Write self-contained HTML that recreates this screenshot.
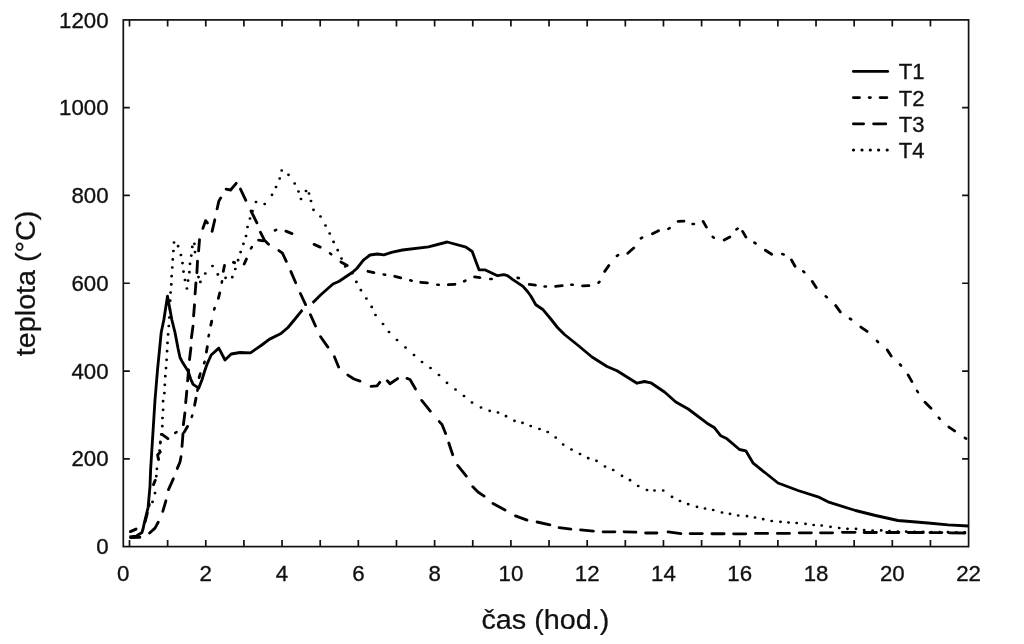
<!DOCTYPE html>
<html lang="cs">
<head>
<meta charset="utf-8">
<title>teplota / čas</title>
<style>
html,body{margin:0;padding:0;background:#fff;}
body{width:1024px;height:644px;overflow:hidden;}
svg{display:block;}
text{font-family:"Liberation Sans",sans-serif;fill:#111;stroke:#111;stroke-width:0.35;}
.tick{font-size:22.8px;}
.title{font-size:27.3px;stroke-width:0.25;}
.leg{font-size:22.3px;}
.ax{stroke:#111;stroke-width:1.7;fill:none;}
.c{stroke:#000;stroke-width:2.85;fill:none;stroke-linejoin:round;stroke-linecap:butt;}
.r{stroke:#000;stroke-width:2.85;fill:none;stroke-linejoin:round;stroke-linecap:round;}
.d{stroke:#000;stroke-width:2.6;fill:none;stroke-linejoin:round;stroke-linecap:round;}
</style>
</head>
<body>
<svg width="1024" height="644" viewBox="0 0 1024 644">
<rect x="0" y="0" width="1024" height="644" fill="#ffffff"/>
<rect class="ax" x="123.3" y="19.9" width="845.3000000000001" height="526.7"/>
<path class="ax" d="M129.5 546.6V540.1M129.5 19.9V26.4M167.64 546.6V540.1M167.64 19.9V26.4M205.78 546.6V540.1M205.78 19.9V26.4M243.92 546.6V540.1M243.92 19.9V26.4M282.06 546.6V540.1M282.06 19.9V26.4M320.2 546.6V540.1M320.2 19.9V26.4M358.34 546.6V540.1M358.34 19.9V26.4M396.48 546.6V540.1M396.48 19.9V26.4M434.62 546.6V540.1M434.62 19.9V26.4M472.76 546.6V540.1M472.76 19.9V26.4M510.9 546.6V540.1M510.9 19.9V26.4M549.04 546.6V540.1M549.04 19.9V26.4M587.18 546.6V540.1M587.18 19.9V26.4M625.32 546.6V540.1M625.32 19.9V26.4M663.46 546.6V540.1M663.46 19.9V26.4M701.6 546.6V540.1M701.6 19.9V26.4M739.74 546.6V540.1M739.74 19.9V26.4M777.88 546.6V540.1M777.88 19.9V26.4M816.02 546.6V540.1M816.02 19.9V26.4M854.16 546.6V540.1M854.16 19.9V26.4M892.3 546.6V540.1M892.3 19.9V26.4M930.44 546.6V540.1M930.44 19.9V26.4M123.3 458.82H129.8M968.6 458.82H962.1M123.3 371.03H129.8M968.6 371.03H962.1M123.3 283.25H129.8M968.6 283.25H962.1M123.3 195.47H129.8M968.6 195.47H962.1M123.3 107.68H129.8M968.6 107.68H962.1"/>
<g class="tick" text-anchor="middle">
<text transform="translate(123.3 581.4) scale(0.977 1)">0</text>
<text transform="translate(205.78 581.4) scale(0.977 1)">2</text>
<text transform="translate(282.06 581.4) scale(0.977 1)">4</text>
<text transform="translate(358.34 581.4) scale(0.977 1)">6</text>
<text transform="translate(434.62 581.4) scale(0.977 1)">8</text>
<text transform="translate(510.9 581.4) scale(0.977 1)">10</text>
<text transform="translate(587.18 581.4) scale(0.977 1)">12</text>
<text transform="translate(663.46 581.4) scale(0.977 1)">14</text>
<text transform="translate(739.74 581.4) scale(0.977 1)">16</text>
<text transform="translate(816.02 581.4) scale(0.977 1)">18</text>
<text transform="translate(892.3 581.4) scale(0.977 1)">20</text>
<text transform="translate(968.58 581.4) scale(0.977 1)">22</text>
</g>
<g class="tick" text-anchor="end">
<text transform="translate(108.6 554.2) scale(0.977 1)">0</text>
<text transform="translate(108.6 466.42) scale(0.977 1)">200</text>
<text transform="translate(108.6 378.63) scale(0.977 1)">400</text>
<text transform="translate(108.6 290.85) scale(0.977 1)">600</text>
<text transform="translate(108.6 203.07) scale(0.977 1)">800</text>
<text transform="translate(108.6 115.28) scale(0.977 1)">1000</text>
<text transform="translate(108.6 27.5) scale(0.977 1)">1200</text>
</g>
<text class="title" text-anchor="middle" transform="translate(545.4 629.1) scale(1.055 1)">čas (hod.)</text>
<text class="title" text-anchor="middle" transform="translate(35 283.4) rotate(-90) scale(1.052 1)">teplota (°C)</text>
<path class="r" d="M853.4 71.4H887.7"/>
<path class="r" d="M853.4 97.6H859.5M869.2 97.6H870.4M880.1 97.6H886.9"/>
<path class="r" d="M853.4 123.8H863.6M873.6 123.8H885.8"/>
<path class="d" style="stroke-width:3" d="M853.4 150h.2M861.9 150h.2M870.2 150h.2M878.5 150h.2M887.1 150h.2"/>
<g class="leg">
<text transform="translate(898.7 79.4) scale(0.99 1)">T1</text>
<text transform="translate(898.7 105.55) scale(0.99 1)">T2</text>
<text transform="translate(898.7 131.7) scale(0.99 1)">T3</text>
<text transform="translate(898.7 157.85) scale(0.99 1)">T4</text>
</g>
<clipPath id="cp"><rect x="123.3" y="19.9" width="845.3000000000001" height="526.7"/></clipPath>
<g clip-path="url(#cp)">
<path class="c" d="M129.4 536.9L136.2 536.2L141.9 532.5L143.1 528.8L144.4 522.5L148.1 507.5L150 486.2L150.6 470L155 400L157.5 370L161.2 332.5L163.8 320L167.5 296.2L171.9 320L175 332.5L178.1 348.8L180 357.5L181.9 361.2L188.1 371.2L190.6 378.8L193.1 384.4L198.8 388.1L201.9 380L205 370L207.5 363.1L211.2 355L218.8 348.1L225 360L231.2 354L240 352.5L250.5 352.8L261.8 345L269.2 339.4L280.5 333.8L288 327.5L294.2 320L301.8 310.6L313.6 301.9L320.5 295L333 284L339.2 281.2L351.8 272.8L356.8 268.5L363 260.6L365 258.8L370 255L377.5 254L383.8 254.8L392.5 252.2L402.5 250L428.5 246.8L447.2 242L466 247.2L472.2 251.5L479 269.8L484.8 269.8L497.5 275.7L503.8 274.6L507.5 275.6L512.5 279.4L523 286.4L527.5 291.5L530.8 296L535.8 304.8L543.2 309.8L551.2 319.5L557.5 327.5L564.5 334.5L577 344.5L592 357L607 366.5L617 370.8L637 383.2L644.5 381.5L650.8 382.8L664.5 392L675.8 402L688.2 409L707 423.2L714.5 427.8L720.8 435.8L727 438.8L739.5 449.5L745.8 450.8L753.2 463.2L768 475L778 483L798 490.5L818 496.8L828 501.8L855.5 510.5L875.5 515.5L898 520.5L928 523L948 524.8L968.5 526"/>
<path d="M302.5 310L312.6 302.8" style="stroke:#fff;stroke-width:4.5;fill:none"/>
<path class="d" style="stroke-width:2.7" d="M152.4 501.9h0.2M154.9 493.1h0.2M156.2 476.2h0.2M156.8 468.8h0.2M158.4 459h0.2M159.5 450.5h0.2M160.2 442.5h0.2M161.2 434.4h0.2M162.2 426.2h0.2M162.4 418h0.2M163.0 409.8h0.2M163.0 401.2h0.2M164.3 393.1h0.2M164.7 384.8h0.2M165.2 376.2h0.2M165.9 368.1h0.2M166.5 359.8h0.2M167.0 351.2h0.2M167.4 342.9h0.2M168.0 334.4h0.2M168.7 326h0.2M169.3 317.5h0.2M169.8 309h0.2M170.1 300.7h0.2M170.5 292.5h0.2M171.2 284.4h0.2M171.5 276.2h0.2M172.2 267.5h0.2M172.7 259.4h0.2M173.3 251h0.2M173.9 242.5h0.2M178.0 246.2h0.2M180.8 255h0.2M182.4 263.1h0.2M183.4 271.6h0.2M184.9 280h0.2M186.8 288.5h0.2M188.0 280.6h0.2M189.3 272.2h0.2M189.9 263.8h0.2M191.2 255.6h0.2M192.2 246.9h0.2M194.3 243.8h0.2M194.9 252.1h0.2M198.4 277.1h0.2M200.3 281.9h0.2M205.2 273.5h0.2M212.4 266h0.2M217.7 274.4h0.2M225.5 277.8h0.2M232.2 277.2h0.2M235.2 269h0.2M238.0 260.2h0.2M240.5 252.1h0.2M243.3 243.8h0.2M245.9 236h0.2M247.4 227h0.2M249.9 218.5h0.2M252.4 211h0.2M255.9 202h0.2M264.6 204h0.2M271.9 194.8h0.2M275.9 187h0.2M279.6 178.5h0.2M281.6 170.5h0.2M288.4 174.8h0.2M294.6 183.5h0.2M298.4 191.5h0.2M300.9 199h0.2M305.9 191h0.2M308.9 193.5h0.2M310.9 201h0.2M313.4 209.8h0.2M320.4 216.5h0.2M325.4 225.5h0.2M329.6 233.5h0.2M333.5 241.9h0.2M337.6 250.2h0.2M341.4 258.5h0.2M345.1 266.5h0.2M352.3 273.1h0.2M356.3 281.9h0.2M360.8 290.2h0.2M366.3 298.5h0.2M371.6 306.9h0.2M375.4 315h0.2M382.9 324h0.2M388.9 332h0.2M396.9 340h0.2M405.4 347.5h0.2M413.9 355h0.2M421.9 362h0.2M430.4 368h0.2M438.9 375h0.2M446.9 382.8h0.2M455.4 389.5h0.2M463.9 396h0.2M471.9 402.5h0.2M480.9 407.5h0.2M489.6 410.8h0.2M497.9 412.5h0.2M505.9 416.2h0.2M514.4 420.8h0.2M522.4 422.8h0.2M530.6 426h0.2M539.4 429h0.2M547.6 432h0.2M555.6 437.5h0.2M563.1 444.5h0.2M571.4 449.5h0.2M579.9 454h0.2M588.1 458.2h0.2M596.4 460.8h0.2M604.9 466.5h0.2M613.1 470h0.2M621.9 475.8h0.2M629.9 480.2h0.2M638.1 486h0.2M646.9 490h0.2M654.4 490.5h0.2M663.1 490.5h0.2M671.9 496.8h0.2M679.9 501h0.2M688.1 504.2h0.2M696.9 506.8h0.2M704.9 508.5h0.2M713.1 510h0.2M721.9 512.5h0.2M729.9 513.8h0.2M738.1 515.5h0.2M746.9 516.2h0.2M754.9 517.5h0.2M763.1 519.2h0.2M771.6 521h0.2M780.4 521.8h0.2M788.4 522.5h0.2M796.6 523h0.2M805.4 523.8h0.2M813.6 525h0.2M821.6 525.5h0.2M830.4 526.8h0.2M839.1 528h0.2M847.4 528.8h0.2M855.9 528.8h0.2M864.1 530h0.2M872.5 530.6h0.2M881.1 530.4h0.2M889.4 531.2h0.2M897.8 531.5h0.2M906.1 531.6h0.2M914.5 531.8h0.2M922.9 531.9h0.2M931.2 532h0.2M939.6 532.1h0.2M947.9 532.2h0.2M956.3 532.3h0.2M964.6 532.4h0.2"/>
<path class="r" d="M130.4 531.6L136.0 529.1M145.1 521.9L147.3 513.1M153.5 484.6L155.2 480.4M158.5 459.5L157.6 455L160.3 451.8M162.1 434.4L167.9 438.7M184.3 432.0L187.5 426.6M194.6 405.2L196.0 398.1M199.1 377.7L200.3 373.6M206.4 352.0L207.3 346.7M210.8 325.2L211.7 321.1M218.4 298.3L219.7 293.0M223.3 271.4L224.5 265.5M233.5 262.3L234.6 262.7M244.2 264.0L246.4 259.1M258.6 240.2L263.2 240.8M285.9 231.2L292.0 233.6M314.1 244.4L320.2 247.1M340.9 262.0L347.2 265.6M368.0 271.3L373.9 272.6M394.8 276.3L400.8 277.8M420.8 282.3L427.4 282.9M448.3 284.7L454.9 284.3M474.6 276.9L479.9 277.6M529.3 284.4L535.4 285.1M555.6 286.4L562.2 285.6M582.6 285.9L588.9 285.6M604.7 271.4L608.8 265.6M627.8 253.3L633.7 248.0M652.5 233.8L658.5 230.7M678.1 221.4L683.9 221.1M703.1 221.4L706.4 227.1M724.2 240.0L729.8 237.0M742.6 231.4L745.9 237.1M765.4 250.3L771.6 254.2M791.5 260.0L795.0 266.3M812.3 281.4L816.2 287.6M835.7 305.6L840.3 311.9M860.9 327.1L867.1 331.4M887.3 349.9L891.2 356.1M908.1 374.9L911.9 381.6M925.0 402.3L931.0 408.2M948.9 427.1L954.6 430.9"/>
<path class="d" d="M149.2 505.7L149.4 504.3M160.2 443.2L160.3 441.8M175.3 432.8L176.5 432.2M191.8 416.9L192.2 415.6M197.4 390.7L197.6 389.3M204.2 363.2L204.6 361.8M208.6 336.3L208.9 334.9M214.2 309.4L214.6 308.1M221.8 282.6L222.0 281.2M251.0 248.4L251.8 247.2M274.9 230.5L276.1 229.9M330.0 253.3L331.2 254.2M383.7 274.5L385.1 274.7M410.3 280.3L411.7 280.7M437.3 284.7L438.7 284.8M464.1 281.3L465.4 280.7M490.3 279.0L491.7 279.0M517.6 277.9L518.9 278.1M544.6 286.5L545.9 286.5M571.3 284.7L572.7 284.8M598.5 282.7L599.5 281.8M616.9 255.9L618.1 255.1M640.9 238.4L642.1 237.6M668.4 228.8L669.6 228.2M692.6 224.0L693.9 224.0M712.7 236.8L713.8 237.7M736.4 229.3L737.6 228.7M754.4 242.6L755.6 243.4M782.3 254.1L783.7 254.4M803.2 271.3L804.3 272.2M825.7 296.3L826.8 297.2M849.9 318.6L851.1 319.4M877.0 341.0L878.0 342.0M900.0 364.5L901.0 365.5M917.1 390.9L917.9 392.1M938.8 417.7L939.7 418.8M964.9 437.9L966.1 438.6"/>
<path class="r" d="M130.6 537.6L139.9 537.3M149.6 533.0L155 528.1L158.2 522.2M162.8 511.4L165.9 500.8M168.5 489.6L173.3 478.8M177.3 468.4L180 462L181.0 456.7M182.0 446.4L183.0 433.6M183.4 424.5L184.9 413.0M185.7 402.7L186.8 391.1M187.6 380.8L188.6 369.8M189.5 359.5L190.9 348.0M191.4 337.7L193.0 326.1M193.6 315.8L194.5 304.8M195.1 293.9L195.9 283.0M196.9 272.7L197.5 261.1M198.6 250.8L199.5 239.6M202.9 228.4L205.6 220.6L207.4 222.9M212.1 231.4L214.8 219.8M217.1 208.9L218.8 201.2L220.7 197.9M226.1 189.2L230.6 190L236.2 183.3M240.5 189.1L245.8 200.3M251.0 211.0L256.9 222.8M260.4 232.2L264.5 240.3L268.5 244.2M278.9 250.6L282.4 253.1L286.3 261.3M290.9 271.6L295.7 282.7M300.4 293.5L305.6 304.6M310.4 314.7L315.5 326.0M320.6 336.7L327.9 347.1M334.4 356.8L338.6 367.0M347.9 375.1L354 379L360.0 381.1M371.1 386.4L377 385.8L379.8 382.3M387.3 380.8L390 383.8L397.6 378.6M407.0 378.4L410 379.5L415.5 389.0M421.7 400.4L430.3 411.1M439.3 421.6L442 424.5L445.6 433.5M448.8 443.0L452.7 454.7M457.7 465.4L466.3 476.1M472.8 486.8L478 492L484.1 496.1M493.0 503.5L505.0 510.0M515.5 515.9L527.0 520.1M537.1 522.0L549.9 524.8M559.1 527.6L570.9 529.1M580.6 529.9L593.4 531.1M603.1 531.8L614.9 531.8M624.1 531.8L635.9 532.2M645.6 533.0L656.9 533.0M668.1 531.9L680.9 533.6M690.1 533.6L702.3 533.6M711.9 533.7L724.1 533.7M733.6 533.8L745.8 533.8M755.5 533.4L767.6 533.4M777.4 533.4L789.5 533.4M799.2 532.8L811.4 532.8M820.5 532.8L832.6 532.8M842.4 532.3L855.1 532.3M864.1 532.5L876.4 532.5M886.7 532.5L898.9 532.5M908.1 532.5L923.3 532.5M929.9 532.6L941.9 532.6M949.1 532.8L964.9 533.0"/>
</g>
</svg>
</body>
</html>
